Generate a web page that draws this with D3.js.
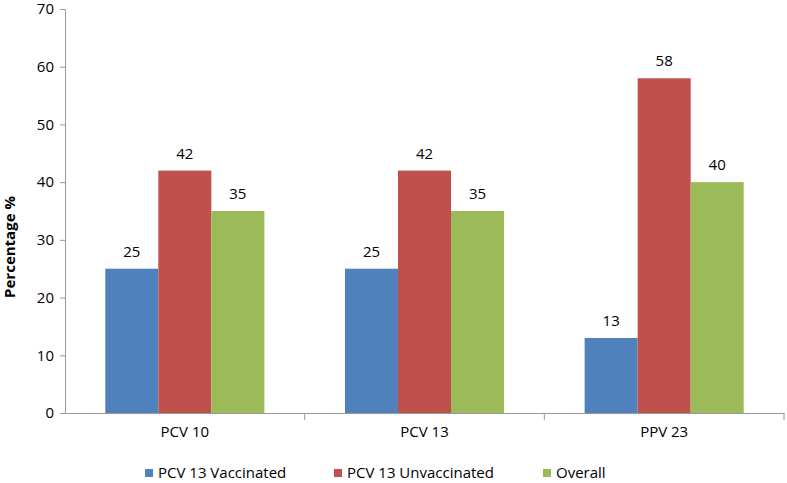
<!DOCTYPE html>
<html><head><meta charset="utf-8">
<script src="https://cdn.jsdelivr.net/npm/d3@7/dist/d3.min.js"></script>
<style>body{margin:0;background:#fff}svg{display:block}text{font-family:"Open Sans",sans-serif;fill:#000}</style>
</head><body><svg id="c" width="787" height="483"></svg>
<script>
const categories = ["PCV 10", "PCV 13", "PPV 23"];
const seriesNames = ["PCV 13 Vaccinated", "PCV 13 Unvaccinated", "Overall"];
const vaccinated = [25, 25, 13];
const unvaccinated = [42, 42, 58];
const overall = [35, 35, 40];
const yTicks = [0, 10, 20, 30, 40, 50, 60, 70];
const colors = ["#4F81BD", "#C0504D", "#9BBB59"];

const seriesVals = [vaccinated, unvaccinated, overall];
const svg = d3.select("#c");
const m = {l: 65, r: 3, t: 9, b: 70};
const W = 787, H = 483;
const FS = "15px";
const x = d3.scaleBand().domain(categories).range([m.l, W - m.r]).paddingInner(0).paddingOuter(0);
const x1 = d3.scaleBand().domain(seriesNames).range([0, x.bandwidth()]).paddingInner(0).paddingOuter(0.76);
const y = d3.scaleLinear().domain([0, 70]).range([H - m.b, m.t]);

// y axis
const ya = svg.append("g").attr("transform", `translate(${m.l},0)`)
  .call(d3.axisLeft(y).tickValues(yTicks).tickSize(5).tickPadding(6));
ya.selectAll("path,line").attr("stroke", "#999");
ya.selectAll("text").style("font-size", FS).style("font-family", "'Open Sans',sans-serif").attr("fill", "#222");

// bars
const g = svg.append("g");
categories.forEach((c, i) => {
  seriesNames.forEach((s, j) => {
    const v = seriesVals[j][i];
    g.append("rect").attr("x", x(c) + x1(s)).attr("width", x1.bandwidth())
      .attr("y", y(v)).attr("height", y(0) - y(v)).attr("fill", colors[j]);
    g.append("text").attr("x", x(c) + x1(s) + x1.bandwidth() / 2).attr("y", y(v) - 12)
      .attr("text-anchor", "middle").style("font-size", FS).attr("fill", "#222").text(v);
  });
});

// x axis
const xa = svg.append("g").attr("transform", `translate(0,${y(0)})`)
  .call(d3.axisBottom(x).tickSize(0).tickPadding(13).tickSizeOuter(0));
xa.select("path").attr("stroke", "#999");
xa.selectAll("text").style("font-size", FS).style("font-family", "'Open Sans',sans-serif").attr("fill", "#222");
const bounds = categories.map(c => x(c)).concat([x(categories[categories.length - 1]) + x.bandwidth()]);
svg.append("g").selectAll("line").data(bounds.slice(1)).join("line")
  .attr("x1", d => d).attr("x2", d => d).attr("y1", y(0)).attr("y2", y(0) + 7).attr("stroke", "#999");

// y title
svg.append("text").attr("transform", "translate(15,247) rotate(-90)").attr("text-anchor", "middle")
  .style("font-size", FS).style("font-weight", "bold").text("Percentage %");

// legend
const legX = [145, 334, 543];
const lg = svg.append("g");
seriesNames.forEach((s, j) => {
  lg.append("rect").attr("x", legX[j]).attr("y", 469).attr("width", 8).attr("height", 8).attr("fill", colors[j]);
  lg.append("text").attr("x", legX[j] + 13).attr("y", 478).style("font-size", FS).attr("fill", "#222").text(s);
});
</script></body></html>
